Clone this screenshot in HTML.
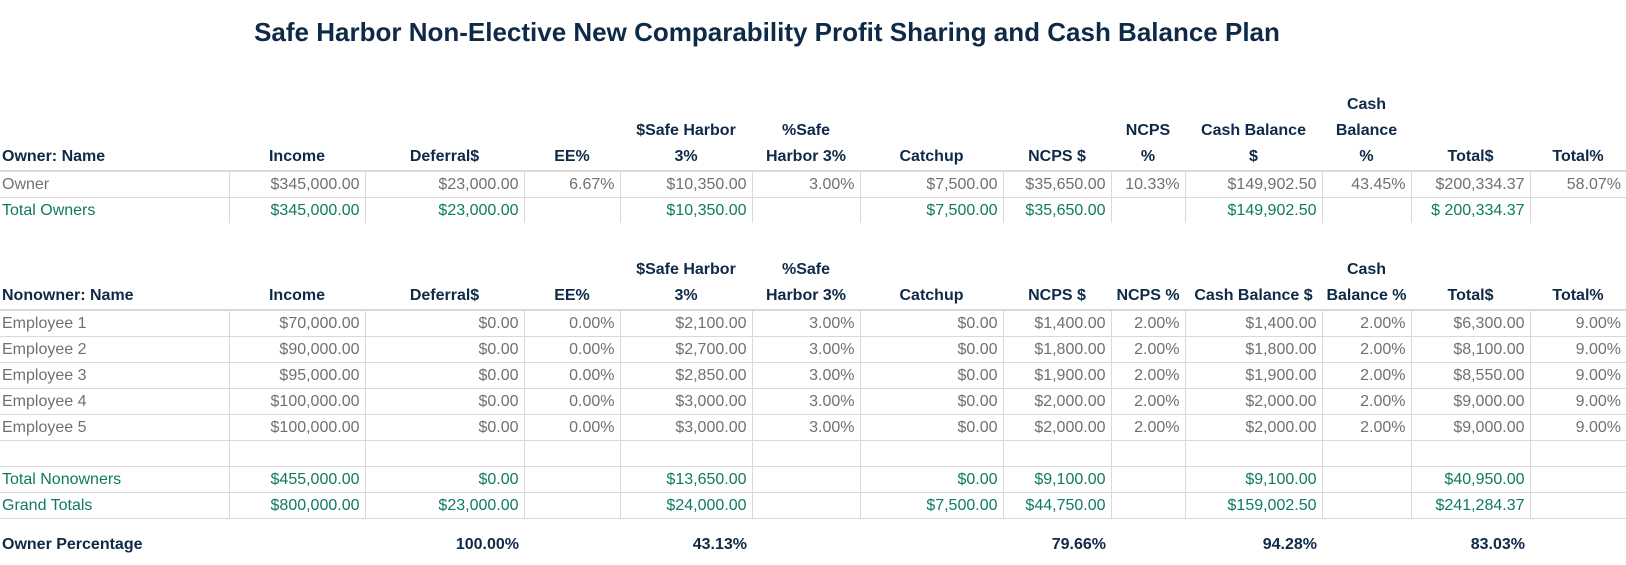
<!DOCTYPE html>
<html><head><meta charset="utf-8"><style>
body{margin:0;width:1626px;height:565px;background:#fff;font-family:"Liberation Sans",sans-serif;position:relative;overflow:hidden}
h1{position:absolute;left:0;width:1534px;top:17px;margin:0;text-align:center;font-size:26px;font-weight:bold;color:#0f2a47;white-space:nowrap}
table{position:absolute;left:0;border-collapse:collapse;table-layout:fixed;width:1626px}
td,th{padding:0 5px 0 0;height:25px;font-size:16px;text-align:right;white-space:nowrap;overflow:visible}
th{font-weight:bold;color:#0f2a47;font-size:16px;line-height:26px;vertical-align:bottom;text-align:center;border-bottom:2px solid #d9d9d9;padding:0}
th.l{text-align:left;padding-left:2px}
td{color:#707070;border-bottom:1px solid #d9d9d9;border-left:1px solid #d9d9d9;line-height:25px}
td:first-child{text-align:left;padding-left:2px;border-left:none}
tr.t td{color:#0e7a62}
tr.p td{border:none;color:#0f2a47;font-weight:bold;height:38px;vertical-align:bottom}
</style></head><body>
<h1>Safe Harbor Non-Elective New Comparability Profit Sharing and Cash Balance Plan</h1>
<table style="top:92px">
<colgroup><col style="width:229px"><col style="width:136px"><col style="width:159px"><col style="width:96px"><col style="width:132px"><col style="width:108px"><col style="width:143px"><col style="width:108px"><col style="width:74px"><col style="width:137px"><col style="width:89px"><col style="width:119px"><col style="width:96px"></colgroup>
<tr style="height:78px"><th class="l">Owner: Name</th><th>Income</th><th>Deferral$</th><th>EE%</th><th>$Safe Harbor<br>3%</th><th>%Safe<br>Harbor 3%</th><th>Catchup</th><th>NCPS $</th><th>NCPS<br>%</th><th>Cash Balance<br>$</th><th>Cash<br>Balance<br>%</th><th>Total$</th><th>Total%</th></tr>
<tr><td>Owner</td><td>$345,000.00</td><td>$23,000.00</td><td>6.67%</td><td>$10,350.00</td><td>3.00%</td><td>$7,500.00</td><td>$35,650.00</td><td>10.33%</td><td>$149,902.50</td><td>43.45%</td><td>$200,334.37</td><td>58.07%</td></tr>
<tr class="t"><td style="border-bottom:none">Total Owners</td><td style="border-bottom:none">$345,000.00</td><td style="border-bottom:none">$23,000.00</td><td style="border-bottom:none"></td><td style="border-bottom:none">$10,350.00</td><td style="border-bottom:none"></td><td style="border-bottom:none">$7,500.00</td><td style="border-bottom:none">$35,650.00</td><td style="border-bottom:none"></td><td style="border-bottom:none">$149,902.50</td><td style="border-bottom:none"></td><td style="border-bottom:none">$ 200,334.37</td><td style="border-bottom:none"></td></tr>
</table>
<table style="top:257px">
<colgroup><col style="width:229px"><col style="width:136px"><col style="width:159px"><col style="width:96px"><col style="width:132px"><col style="width:108px"><col style="width:143px"><col style="width:108px"><col style="width:74px"><col style="width:137px"><col style="width:89px"><col style="width:119px"><col style="width:96px"></colgroup>
<tr style="height:52px"><th class="l">Nonowner: Name</th><th>Income</th><th>Deferral$</th><th>EE%</th><th>$Safe Harbor<br>3%</th><th>%Safe<br>Harbor 3%</th><th>Catchup</th><th>NCPS $</th><th>NCPS %</th><th>Cash Balance $</th><th>Cash<br>Balance %</th><th>Total$</th><th>Total%</th></tr>
<tr><td>Employee 1</td><td>$70,000.00</td><td>$0.00</td><td>0.00%</td><td>$2,100.00</td><td>3.00%</td><td>$0.00</td><td>$1,400.00</td><td>2.00%</td><td>$1,400.00</td><td>2.00%</td><td>$6,300.00</td><td>9.00%</td></tr>
<tr><td>Employee 2</td><td>$90,000.00</td><td>$0.00</td><td>0.00%</td><td>$2,700.00</td><td>3.00%</td><td>$0.00</td><td>$1,800.00</td><td>2.00%</td><td>$1,800.00</td><td>2.00%</td><td>$8,100.00</td><td>9.00%</td></tr>
<tr><td>Employee 3</td><td>$95,000.00</td><td>$0.00</td><td>0.00%</td><td>$2,850.00</td><td>3.00%</td><td>$0.00</td><td>$1,900.00</td><td>2.00%</td><td>$1,900.00</td><td>2.00%</td><td>$8,550.00</td><td>9.00%</td></tr>
<tr><td>Employee 4</td><td>$100,000.00</td><td>$0.00</td><td>0.00%</td><td>$3,000.00</td><td>3.00%</td><td>$0.00</td><td>$2,000.00</td><td>2.00%</td><td>$2,000.00</td><td>2.00%</td><td>$9,000.00</td><td>9.00%</td></tr>
<tr><td>Employee 5</td><td>$100,000.00</td><td>$0.00</td><td>0.00%</td><td>$3,000.00</td><td>3.00%</td><td>$0.00</td><td>$2,000.00</td><td>2.00%</td><td>$2,000.00</td><td>2.00%</td><td>$9,000.00</td><td>9.00%</td></tr>
<tr><td></td><td></td><td></td><td></td><td></td><td></td><td></td><td></td><td></td><td></td><td></td><td></td><td></td></tr>
<tr class="t"><td>Total Nonowners</td><td>$455,000.00</td><td>$0.00</td><td></td><td>$13,650.00</td><td></td><td>$0.00</td><td>$9,100.00</td><td></td><td>$9,100.00</td><td></td><td>$40,950.00</td><td></td></tr>
<tr class="t"><td>Grand Totals</td><td>$800,000.00</td><td>$23,000.00</td><td></td><td>$24,000.00</td><td></td><td>$7,500.00</td><td>$44,750.00</td><td></td><td>$159,002.50</td><td></td><td>$241,284.37</td><td></td></tr>
<tr class="p"><td>Owner Percentage</td><td></td><td>100.00%</td><td></td><td>43.13%</td><td></td><td></td><td>79.66%</td><td></td><td>94.28%</td><td></td><td>83.03%</td><td></td></tr>
</table>
</body></html>
